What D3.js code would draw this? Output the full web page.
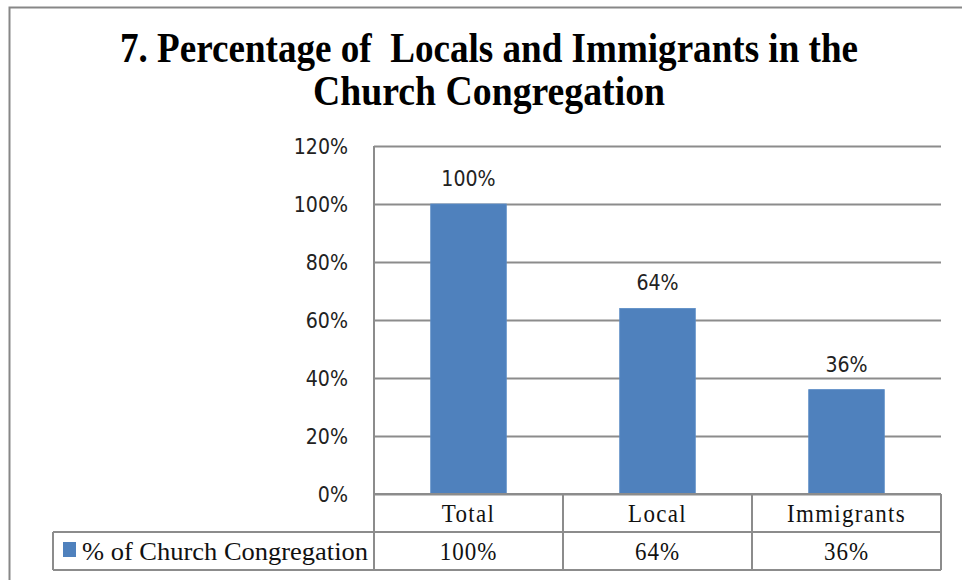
<!DOCTYPE html>
<html>
<head>
<meta charset="utf-8">
<script src="https://cdn.jsdelivr.net/npm/d3@7"></script>
<style>
  html, body { margin: 0; padding: 0; background: #fff; }
  svg { display: block; }
  text { white-space: pre; }
</style>
</head>
<body>
<svg id="chart" width="962" height="580"></svg>
<script>
// Chart data
const titleLines = ["7. Percentage of  Locals and Immigrants in the", "Church Congregation"];
const categories = ["Total", "Local", "Immigrants"];
const seriesName = "% of Church Congregation";
const values = [1.00, 0.64, 0.36];
const yTicks = [0, 0.2, 0.4, 0.6, 0.8, 1.0, 1.2];

const svg = d3.select("#chart");
const W = 962, H = 580;

const plot = { left: 374, right: 941, top: 146, bottom: 494 };
const rowH = 38;
const tableLeft = 53;
const gridColor = "#8c8c8c";
const barColor = "#4f81bd";
const pct = d3.format(".0%");

const x = d3.scaleBand().domain(categories)
  .range([plot.left, plot.right]).paddingInner(0.6).paddingOuter(0.3);
const step = (plot.right - plot.left) / categories.length;
const colCenter = c => plot.left + step * (categories.indexOf(c) + 0.5);
const y = d3.scaleLinear().domain([0, 1.2]).range([plot.bottom, plot.top]);

// helper: text with slight vertical stretch
function label(g, txt, tx, ty, opts) {
  const t = g.append("text")
    .attr("transform", `translate(${tx},${ty}) scale(1,${opts.sy || 1})`)
    .attr("text-anchor", opts.anchor || "middle")
    .attr("font-family", opts.family)
    .attr("font-size", opts.size)
    .attr("font-weight", opts.weight || "normal")
    .attr("fill", opts.fill || "#111")
    .text(txt);
  if (opts.spacing) t.attr("letter-spacing", opts.spacing);
  if (opts.len) t.attr("textLength", opts.len).attr("lengthAdjust", "spacingAndGlyphs");
  return t;
}

// outer chart frame (only top and left edges fall inside the view)
svg.append("path")
  .attr("d", `M9.5,${H + 5} V7.5 H${W + 5}`)
  .attr("fill", "none").attr("stroke", "#878787").attr("stroke-width", 2);

// title
const serif = "'Liberation Serif', 'Times New Roman', serif";
label(svg, titleLines[0], 489, 62, { family: serif, size: 37, weight: "bold", sy: 1.12, len: 738, fill: "#000" });
label(svg, titleLines[1], 489, 105, { family: serif, size: 37, weight: "bold", sy: 1.12, len: 352, fill: "#000" });

// gridlines and y tick labels
const yAxis = d3.axisLeft(y).tickValues(yTicks).tickFormat("")
  .tickSize(-(plot.right - plot.left)).tickSizeOuter(0);
const gy = svg.append("g").attr("transform", `translate(${plot.left},0)`).call(yAxis);
gy.select(".domain").remove();
gy.selectAll(".tick line").attr("stroke", gridColor).attr("stroke-width", 2);

const sans = "'DejaVu Sans', Verdana, sans-serif";
const gyl = svg.append("g");
yTicks.forEach(v => {
  label(gyl, pct(v), 348, y(v) + 8, { family: sans, size: 19, sy: 1.12, anchor: "end", fill: "#222" });
});

// left axis line
svg.append("line")
  .attr("x1", plot.left).attr("x2", plot.left)
  .attr("y1", plot.top).attr("y2", plot.bottom + 2 * rowH)
  .attr("stroke", gridColor).attr("stroke-width", 2);

// bars
svg.append("g").selectAll("rect").data(values).join("rect")
  .attr("x", (d, i) => x(categories[i]))
  .attr("width", x.bandwidth())
  .attr("y", d => y(d))
  .attr("height", d => y(0) - y(d))
  .attr("fill", barColor)
  .attr("stroke", "#5b8cc6").attr("stroke-width", 0.8);

// value labels above bars
const gv = svg.append("g");
values.forEach((v, i) => {
  label(gv, pct(v), colCenter(categories[i]), y(v) - 18, { family: sans, size: 19, sy: 1.12, fill: "#222" });
});

// data table below the axis
const tb = svg.append("g").attr("stroke", gridColor).attr("stroke-width", 2).attr("fill", "none");
tb.append("line").attr("x1", plot.left).attr("x2", plot.right).attr("y1", plot.bottom).attr("y2", plot.bottom);
tb.append("line").attr("x1", tableLeft).attr("x2", plot.right).attr("y1", plot.bottom + rowH).attr("y2", plot.bottom + rowH);
tb.append("line").attr("x1", tableLeft).attr("x2", plot.right).attr("y1", plot.bottom + 2 * rowH).attr("y2", plot.bottom + 2 * rowH);
tb.append("line").attr("x1", tableLeft).attr("x2", tableLeft).attr("y1", plot.bottom + rowH).attr("y2", plot.bottom + 2 * rowH);
d3.range(1, categories.length + 1).forEach(k => {
  const xx = plot.left + step * k;
  tb.append("line").attr("x1", xx).attr("x2", xx).attr("y1", plot.bottom).attr("y2", plot.bottom + 2 * rowH);
});

const gt = svg.append("g");
categories.forEach((c, i) => {
  label(gt, c, colCenter(c), plot.bottom + 28, { family: serif, size: 23, sy: 1.1, spacing: 1.3, fill: "#111" });
  label(gt, pct(values[i]), colCenter(c), plot.bottom + rowH + 28, { family: serif, size: 23, sy: 1.1, spacing: 1, fill: "#111" });
});

// legend key in the table
gt.append("rect").attr("x", 63).attr("y", plot.bottom + rowH + 10)
  .attr("width", 13).attr("height", 15).attr("fill", barColor);
label(gt, seriesName, 82, plot.bottom + rowH + 28, { family: serif, size: 23, sy: 1.1, anchor: "start", len: 286, fill: "#111" });
</script>
</body>
</html>
